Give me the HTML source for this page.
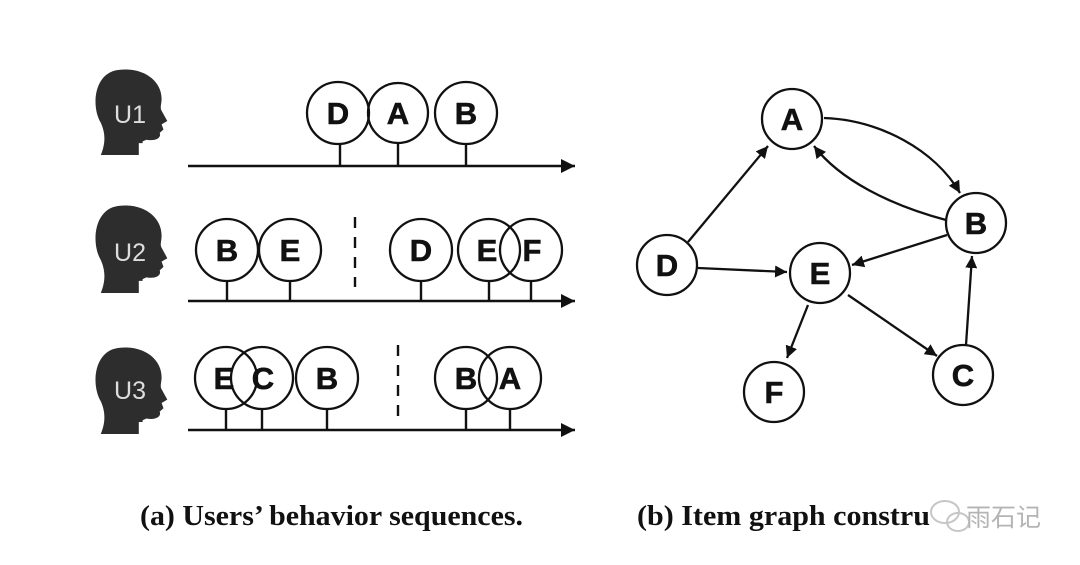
<!DOCTYPE html>
<html><head><meta charset="utf-8"><style>
html,body{margin:0;padding:0;background:#fff;}
svg{display:block}
</style></head><body>
<svg width="1080" height="565" viewBox="0 0 1080 565" xmlns="http://www.w3.org/2000/svg">
<defs>
<marker id="ah" viewBox="0 0 10 10" refX="10" refY="5" markerWidth="12" markerHeight="12" markerUnits="userSpaceOnUse" orient="auto"><path d="M0,0 L10,5 L0,10 z" fill="#111"/></marker>
<marker id="ax" viewBox="0 0 10 10" refX="10" refY="5" markerWidth="16" markerHeight="14" markerUnits="userSpaceOnUse" orient="auto"><path d="M0,0 L10,5 L0,10 z" fill="#111"/></marker>
<g id="head">
<path d="M22,0 C48,-4 68,12 68,34 C68,40 66,44 68,48 L74,60 L68,64 L70,70 L66,74 C68,80 62,84 52,82 L48,84 L48,86 L44,86 L44,100 L4,100 C10,84 8,72 4,62 C-6,44 -4,4 22,0 Z" fill="#2d2d2d"/>
</g>
</defs>
<g transform="translate(97,70) scale(0.95,0.85)"><use href="#head"/></g>
<g transform="translate(97,206) scale(0.95,0.87)"><use href="#head"/></g>
<g transform="translate(97,348) scale(0.95,0.86)"><use href="#head"/></g>
<g font-family="Liberation Sans, sans-serif" font-size="25" fill="#ddd" text-anchor="middle">
<text x="130" y="123">U1</text><text x="130" y="261">U2</text><text x="130" y="399">U3</text>
</g>
<g stroke="#111" stroke-width="2.4" fill="none">
<line x1="188" y1="166" x2="575" y2="166" marker-end="url(#ax)"/>
<line x1="188" y1="301" x2="575" y2="301" marker-end="url(#ax)"/>
<line x1="188" y1="430" x2="575" y2="430" marker-end="url(#ax)"/>
<line x1="355" y1="217" x2="355" y2="287" stroke-dasharray="11,9"/>
<line x1="398" y1="345" x2="398" y2="418" stroke-dasharray="11,9"/>
<path d="M340,144V166M398,144V166M466,144V166 M227,281V301M290,281V301M421,281V301M489,281V301M531,281V301 M226,409V430M262,409V430M327,409V430M466,409V430M510,409V430"/>
</g>
<g stroke="#111" stroke-width="2.3" fill="none">
<circle cx="338" cy="113" r="31"/><circle cx="398" cy="113" r="30"/><circle cx="466" cy="113" r="31"/>
<circle cx="227" cy="250" r="31"/><circle cx="290" cy="250" r="31"/><circle cx="421" cy="250" r="31"/><circle cx="489" cy="250" r="31"/><circle cx="531" cy="250" r="31"/>
<circle cx="226" cy="378" r="31"/><circle cx="262" cy="378" r="31"/><circle cx="327" cy="378" r="31"/><circle cx="466" cy="378" r="31"/><circle cx="510" cy="378" r="31"/>
</g>
<g font-family="Liberation Sans, sans-serif" font-weight="bold" font-size="31" fill="#111" text-anchor="middle" stroke="#111" stroke-width="0.6">
<text x="338" y="124">D</text><text x="398" y="124">A</text><text x="466" y="124">B</text>
<text x="227" y="261">B</text><text x="290" y="261">E</text><text x="421" y="261">D</text><text x="487" y="261">E</text><text x="532" y="261">F</text>
<text x="224" y="389">E</text><text x="263" y="389">C</text><text x="327" y="389">B</text><text x="466" y="389">B</text><text x="510" y="389">A</text>
</g>
<g stroke="#111" stroke-width="2.3" fill="none">
<line x1="688" y1="242" x2="768" y2="146" marker-end="url(#ah)"/>
<path d="M824,118 C880,120 935,150 960,193" marker-end="url(#ah)"/>
<path d="M946,220 C890,205 840,180 814,146" marker-end="url(#ah)"/>
<line x1="698" y1="268" x2="787" y2="272" marker-end="url(#ah)"/>
<line x1="947" y1="235" x2="852" y2="265" marker-end="url(#ah)"/>
<line x1="808" y1="305" x2="787" y2="358" marker-end="url(#ah)"/>
<line x1="848" y1="295" x2="937" y2="356" marker-end="url(#ah)"/>
<line x1="966" y1="345" x2="972" y2="256" marker-end="url(#ah)"/>
<circle cx="792" cy="119" r="30"/><circle cx="976" cy="223" r="30"/><circle cx="667" cy="265" r="30"/><circle cx="820" cy="273" r="30"/><circle cx="774" cy="392" r="30"/><circle cx="963" cy="375" r="30"/>
</g>
<g font-family="Liberation Sans, sans-serif" font-weight="bold" font-size="31" fill="#111" text-anchor="middle" stroke="#111" stroke-width="0.6">
<text x="792" y="130">A</text><text x="976" y="234">B</text><text x="667" y="276">D</text><text x="820" y="284">E</text><text x="774" y="403">F</text><text x="963" y="386">C</text>
</g>
<g font-family="Liberation Serif, serif" font-weight="bold" font-size="29" fill="#111">
<text x="140" y="525" textLength="383" lengthAdjust="spacingAndGlyphs">(a) Users’ behavior sequences.</text>
<text x="637" y="525" textLength="293" lengthAdjust="spacingAndGlyphs">(b) Item graph constru</text>
</g>
<g opacity="0.55">
<ellipse cx="945" cy="512" rx="14" ry="11" fill="none" stroke="#999" stroke-width="2"/>
<ellipse cx="958" cy="522" rx="11" ry="9" fill="none" stroke="#999" stroke-width="2"/>
<text x="966" y="526" font-family="Noto Sans CJK SC, sans-serif" font-size="25" fill="#777">雨石记</text>
</g>
</svg>
</body></html>
